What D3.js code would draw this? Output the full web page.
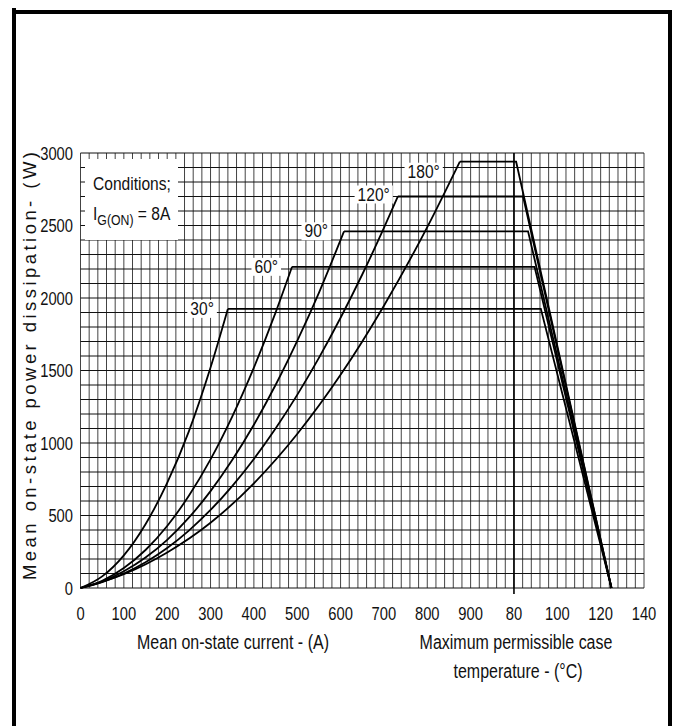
<!DOCTYPE html>
<html>
<head>
<meta charset="utf-8">
<script src="https://cdn.jsdelivr.net/npm/d3@7"></script>
<style>
  body { margin: 0; background: #fff; }
  svg { display: block; }
</style>
</head>
<body>
<svg id="chart" width="677" height="726"></svg>
<script>
// Conduction angles
const angleLabels = ["30°", "60°", "90°", "120°", "180°"];

// Rising part: [mean on-state current (A), mean power dissipation (W)]
const rise30  = [[0,0],[50,80],[100,225],[150,440],[200,725],[250,1080],[300,1520],[340,1925]];
const rise60  = [[0,0],[50,50],[100,138],[150,262],[200,428],[250,636],[300,887],[350,1182],[400,1520],[450,1899],[488,2215]];
const rise90  = [[0,0],[50,44],[100,115],[150,210],[200,332],[250,485],[300,668],[350,882],[400,1126],[450,1400],[500,1704],[550,2036],[608,2460]];
const rise120 = [[0,0],[50,40],[100,100],[150,178],[200,276],[250,396],[300,538],[350,703],[400,890],[450,1100],[500,1332],[550,1587],[600,1864],[650,2162],[700,2483],[732,2700]];
const rise180 = [[0,0],[100,95],[200,245],[300,450],[400,722],[500,1062],[600,1470],[700,1947],[800,2489],[875,2940]];

// Plateau power and case temperature (°C) where each derating line starts
const plateauPower  = [1925, 2215, 2460, 2700, 2940];
const caseTempStart = [92.4, 89.5, 86.5, 84.2, 81.0];
const tjMax = 125;

// Tick labels
const currentTicks = [0, 100, 200, 300, 400, 500, 600, 700, 800, 900];
const tempTicks = [80, 100, 120, 140];
const powerTicks = [0, 500, 1000, 1500, 2000, 2500, 3000];

const riseCurves = [rise30, rise60, rise90, rise120, rise180];

const SANS = "'Liberation Sans', Arial, sans-serif";
const NARROW_X = 0.82; // horizontal squeeze giving a narrow face
const svg = d3.select("#chart");

// Narrow text helper: anchored at (px, py), squeezed horizontally
function narrowText(parent, px, py, size, anchor, str) {
  return parent.append("text")
    .attr("transform", `translate(${px},${py}) scale(${NARROW_X},1)`)
    .attr("font-family", SANS).attr("font-size", size).attr("fill", "#111")
    .attr("text-anchor", anchor)
    .text(str);
}

// Current section 0..1000 A, then the case-temperature section 80..140 °C
const x = d3.scaleLinear().domain([0, 1300]).range([80.5, 644]);
const xT = d3.scaleLinear().domain([80, 140]).range([x(1000), x(1300)]);
const y = d3.scaleLinear().domain([0, 3000]).range([588, 153]);

// Grid
const grid = svg.append("g");
grid.selectAll("line.v").data(d3.range(0, 1301, 20)).join("line")
  .attr("x1", d => x(d)).attr("x2", d => x(d))
  .attr("y1", y(3000)).attr("y2", y(0))
  .attr("stroke", "#444").attr("stroke-width", 1);
grid.selectAll("line.h").data(d3.range(0, 3001, 100)).join("line")
  .attr("x1", x(0)).attr("x2", x(1300))
  .attr("y1", d => y(d)).attr("y2", d => y(d))
  .attr("stroke", "#111").attr("stroke-width", 1);

// 80 °C reference line
svg.append("line")
  .attr("x1", xT(80)).attr("x2", xT(80))
  .attr("y1", y(3000)).attr("y2", y(0) + 6)
  .attr("stroke", "#000").attr("stroke-width", 1.6);

// Conditions box
svg.append("rect").attr("x", 85).attr("y", 159).attr("width", 93).attr("height", 81).attr("fill", "#fff");
const cond = svg.append("g");
narrowText(cond, 93, 190, 19, "start", "Conditions;");
const ig = cond.append("text")
  .attr("transform", `translate(93,220) scale(${NARROW_X},1)`)
  .attr("font-family", SANS).attr("font-size", 19).attr("fill", "#111");
ig.append("tspan").text("I");
ig.append("tspan").attr("font-size", 15).attr("dy", 5).text("G(ON)");
ig.append("tspan").attr("dy", -5).text(" = 8A");

// Curves: rise, plateau, derating
const line = d3.line().x(d => x(d[0])).y(d => y(d[1])).curve(d3.curveMonotoneX);
riseCurves.forEach((pts, i) => {
  svg.append("path").attr("d", line(pts))
    .attr("fill", "none").attr("stroke", "#000").attr("stroke-width", 1.8);
  const knee = pts[pts.length - 1];
  const p = plateauPower[i];
  svg.append("path")
    .attr("d", d3.line()([[x(knee[0]), y(p)], [xT(caseTempStart[i]), y(p)], [xT(tjMax), y(0)]]))
    .attr("fill", "none").attr("stroke", "#000").attr("stroke-width", 1.8)
    .attr("stroke-linejoin", "miter");
});

// Angle labels on white patches, left of each knee
const labelDy = [0, 0, 0, -2, 10];
const labelGap = [14, 14, 16, 8, 20];
riseCurves.forEach((pts, i) => {
  const knee = pts[pts.length - 1];
  const g = svg.append("g");
  const t = narrowText(g, x(knee[0]) - labelGap[i], y(plateauPower[i]) + labelDy[i] + 6, 19, "end", angleLabels[i]);
  const bb = t.node().getBBox();
  const w = bb.width * NARROW_X;
  g.insert("rect", "text")
    .attr("x", x(knee[0]) - labelGap[i] - w - 3).attr("y", y(plateauPower[i]) + labelDy[i] - 9)
    .attr("width", w + 6).attr("height", 18)
    .attr("fill", "#fff");
});

// Axis tick labels
const tickG = svg.append("g");
powerTicks.forEach(d => narrowText(tickG, 73, y(d) + 6.5, 18, "end", d));
currentTicks.forEach(d => narrowText(tickG, x(d), 620, 18, "middle", d));
tempTicks.forEach(d => narrowText(tickG, xT(d), 620, 18, "middle", d));

// Axis titles
const titles = svg.append("g");
narrowText(titles, 233, 649, 19.5, "middle", "Mean on-state current - (A)");
narrowText(titles, 516, 649, 19.5, "middle", "Maximum permissible case");
narrowText(titles, 518, 678, 19.5, "middle", "temperature - (°C)");
svg.append("text")
  .attr("transform", "translate(36,366) rotate(-90)")
  .attr("text-anchor", "middle")
  .attr("font-family", SANS).attr("font-size", 18.5).attr("fill", "#111")
  .attr("textLength", 428).attr("lengthAdjust", "spacing")
  .text("Mean on-state power dissipation- (W)");

// Frame
svg.append("path").attr("d", "M14,726 V8 M12,12 H670 V726")
  .attr("fill", "none").attr("stroke", "#000").attr("stroke-width", 4);
</script>
</body>
</html>
